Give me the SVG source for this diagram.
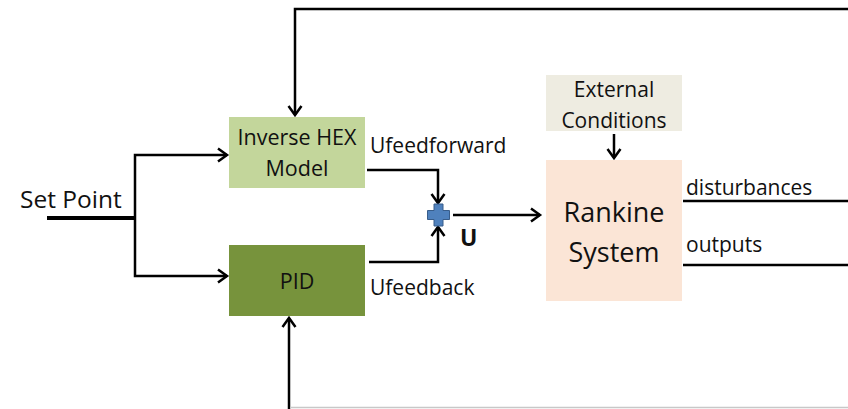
<svg xmlns="http://www.w3.org/2000/svg" width="848" height="409" viewBox="0 0 848 409">
<defs>
<marker id="ah" markerUnits="userSpaceOnUse" markerWidth="18" markerHeight="18" refX="13" refY="9" orient="auto">
<polyline points="4,2.5 13,9 4,15.5" fill="none" stroke="#000" stroke-width="2.5"/>
</marker>
</defs>
<style>
.t{font-family:"Open Sans","Liberation Sans",sans-serif;fill:#111}
.ln{fill:none;stroke:#000;stroke-width:2.5}
</style>
<rect width="848" height="409" fill="#fff"/>
<g id="connectors">
<polyline class="ln" points="848,9 295,9 295,115" marker-end="url(#ah)"/>
<line x1="47" y1="218" x2="135" y2="218" stroke="#000" stroke-width="4"/>
<polyline class="ln" points="135,218 135,155 227,155" marker-end="url(#ah)"/>
<polyline class="ln" points="135,218 135,276 227,276" marker-end="url(#ah)"/>
<polyline class="ln" points="367,170 438,170 438,203" marker-end="url(#ah)"/>
<polyline class="ln" points="369,262 438,262 438,227" marker-end="url(#ah)"/>
<line class="ln" x1="453" y1="215" x2="540" y2="215" marker-end="url(#ah)"/>
<line class="ln" x1="614" y1="134" x2="614" y2="158" marker-end="url(#ah)"/>
<line class="ln" x1="683" y1="201" x2="848" y2="201"/>
<line class="ln" x1="683" y1="265" x2="848" y2="265"/>
<line class="ln" x1="289" y1="409" x2="289" y2="318" marker-end="url(#ah)"/>
<line x1="290" y1="407.5" x2="848" y2="407.5" stroke="#c8c8c8" stroke-width="1.5"/>
</g>
<g id="inverse-hex">
<rect x="229" y="117" width="136" height="71" fill="#c3d69b"/>
<text class="t" x="297" y="145" font-size="21.5" text-anchor="middle">Inverse HEX</text>
<text class="t" x="297" y="176" font-size="21.5" text-anchor="middle">Model</text>
</g>
<g id="pid">
<rect x="229" y="245" width="136" height="71" fill="#77933c"/>
<text class="t" x="297" y="289" font-size="21.5" text-anchor="middle">PID</text>
</g>
<g id="external">
<rect x="546" y="75" width="136" height="56" fill="#eeece1"/>
<text class="t" x="614" y="97" font-size="21" text-anchor="middle">External</text>
<text class="t" x="614" y="128" font-size="21" text-anchor="middle">Conditions</text>
</g>
<g id="rankine">
<rect x="546" y="160" width="136" height="141" fill="#fbe5d6"/>
<text class="t" x="614" y="222" font-size="27" text-anchor="middle">Rankine</text>
<text class="t" x="614" y="262" font-size="27" text-anchor="middle">System</text>
</g>
<g id="sum">
<path d="M434,204 h9 v6.5 h6.5 v9 h-6.5 v6.5 h-9 v-6.5 h-6.5 v-9 h6.5 z" fill="#4f81bd" stroke="#385d8a" stroke-width="1"/>
</g>
<g id="labels">
<text class="t" x="20" y="208" font-size="24.5">Set Point</text>
<text class="t" x="370" y="153" font-size="21">Ufeedforward</text>
<text class="t" x="370" y="295" font-size="21">Ufeedback</text>
<text class="t" x="460" y="246" font-size="23" font-weight="bold">U</text>
<text class="t" x="686" y="195" font-size="21">disturbances</text>
<text class="t" x="686" y="252" font-size="21">outputs</text>
</g>
</svg>
